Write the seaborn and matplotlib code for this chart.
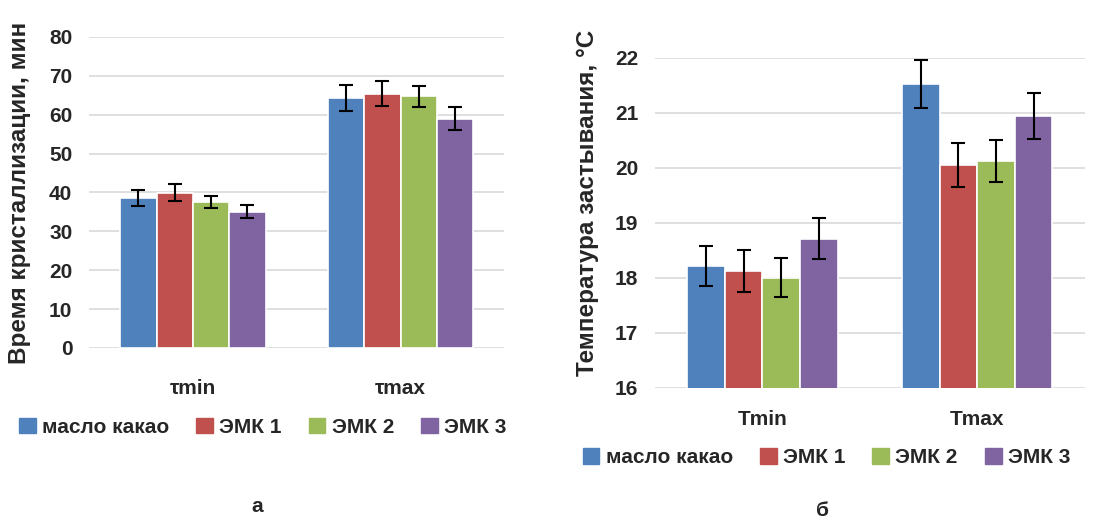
import pandas as pd
import matplotlib
matplotlib.use("Agg")
import matplotlib.pyplot as plt
import seaborn as sns

# data
samples = ["масло какао", "ЭМК 1", "ЭМК 2", "ЭМК 3"]
colors = ["#4F81BD", "#C0504D", "#9BBB59", "#8064A2"]

cats_a = ["τmin", "τmax"]
time_min = [38.6, 39.9, 37.5, 35.1]
time_min_err = [2.1, 2.2, 1.55, 1.75]
time_max = [64.3, 65.4, 64.8, 59.0]
time_max_err = [3.3, 3.25, 2.7, 3.0]

cats_b = ["Tmin", "Tmax"]
temp_min = [18.21, 18.12, 18.0, 18.71]
temp_min_err = [0.36, 0.38, 0.36, 0.37]
temp_max = [21.52, 20.04, 20.12, 20.94]
temp_max_err = [0.44, 0.40, 0.39, 0.42]

sns.set_style("white")
plt.rcParams["font.family"] = ["Liberation Sans", "DejaVu Sans"]
plt.rcParams["font.weight"] = "bold"

fig = plt.figure(figsize=(10.99, 5.28), dpi=100)
ax1 = fig.add_axes([0.081, 0.341, 0.378, 0.589])
ax2 = fig.add_axes([0.596, 0.266, 0.391, 0.625])


def draw(ax, cats, vmin, emin, vmax, emax):
    df = pd.DataFrame({
        "cat": [cats[0]] * 4 + [cats[1]] * 4,
        "sample": samples * 2,
        "value": vmin + vmax,
        "err": emin + emax,
    })
    sns.barplot(data=df, x="cat", y="value", hue="sample", order=cats,
                hue_order=samples, palette=colors, saturation=1, width=0.7,
                errorbar=None, edgecolor="white", linewidth=1.2, ax=ax,
                zorder=2)
    bars = list(ax.containers)
    for i, cont in enumerate(bars):
        sub = df[df["sample"] == samples[i]].set_index("cat").loc[cats]
        xs = [p.get_x() + p.get_width() / 2 for p in cont.patches]
        ax.errorbar(xs, sub["value"], yerr=sub["err"], fmt="none",
                    ecolor="black", elinewidth=1.5, capsize=5, capthick=1.5,
                    zorder=3)
    ax.set_xlim(-0.5, 1.5)
    ax.grid(axis="y", color="#D9D9D9", linewidth=1.2, zorder=0)
    ax.set_axisbelow(True)
    sns.despine(ax=ax, left=True, bottom=True)
    ax.set_xlabel("")
    ax.tick_params(axis="both", length=0)
    ax.tick_params(axis="y", labelsize=15, pad=12)
    ax.get_legend().remove()


draw(ax1, cats_a, time_min, time_min_err, time_max, time_max_err)
ax1.set_ylim(0, 80)
ax1.set_yticks(range(0, 81, 10))
ax1.tick_params(axis="x", pad=22, labelsize=15)
ax1.set_ylabel("Время кристаллизации, мин", fontsize=17.5, fontweight="bold")
ax1.yaxis.set_label_coords(-0.14, 0.50)

draw(ax2, cats_b, temp_min, temp_min_err, temp_max, temp_max_err)
ax2.set_ylim(16, 22)
ax2.set_yticks(range(16, 23))
ax2.tick_params(axis="x", pad=16, labelsize=15)
ax2.set_ylabel("Температура застывания, °С", fontsize=17.5, fontweight="bold")
ax2.yaxis.set_label_coords(-0.131, 0.56)

handles = [plt.Rectangle((0, 0), 1, 1, color=c) for c in colors]
for ax, xc, yc in [(ax1, 0.239, 0.191), (ax2, 0.752, 0.133)]:
    ax.legend(handles, samples, loc="center", bbox_to_anchor=(xc, yc),
              bbox_transform=fig.transFigure, ncol=4, frameon=False,
              handlelength=0.8, handleheight=0.8, handletextpad=0.3,
              columnspacing=1.3, fontsize=15)

fig.text(0.234, 0.040, "а", ha="center", va="center", fontsize=15)
fig.text(0.748, 0.034, "б", ha="center", va="center", fontsize=15)

plt.savefig("out.png", dpi=100)
